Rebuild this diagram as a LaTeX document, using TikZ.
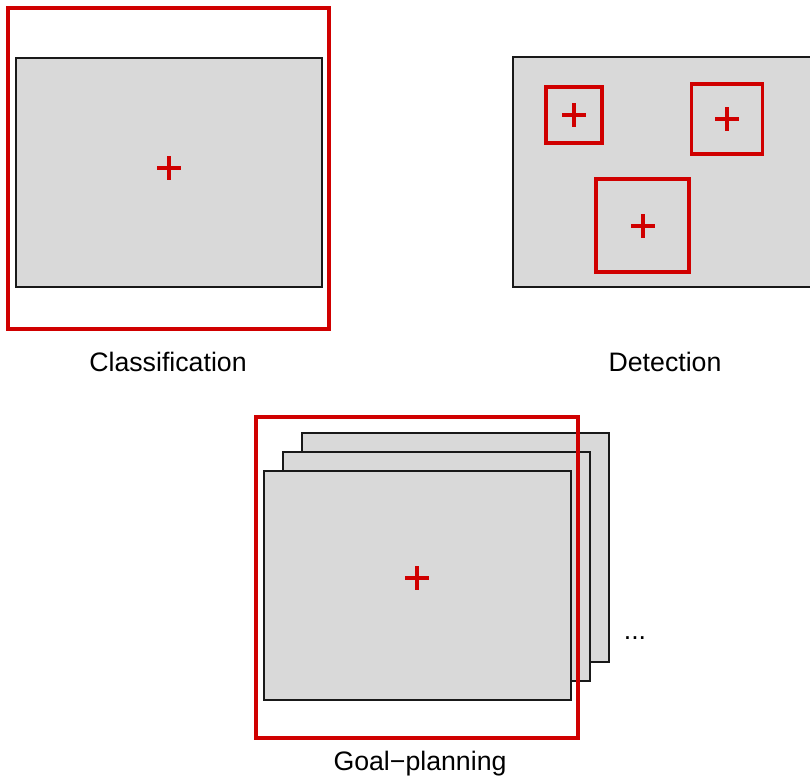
\documentclass[tikz,border=0pt]{standalone}
\usepackage{fontspec}
\setmainfont{Liberation Sans}
\definecolor{boxred}{RGB}{208,0,0}
\definecolor{imggray}{RGB}{217,217,217}
\tikzset{crosshair/.pic={\draw[boxred, line width=2.1pt] (-12,0) -- (12,0) (0,-12) -- (0,12);}}
\begin{document}
\begin{tikzpicture}[x=0.02cm, y=-0.02cm, inner sep=0pt, outer sep=0pt,
		framestyle/.style={draw=black!90, fill=imggray, line width=0.6pt, rectangle},
		redbox/.style={draw=boxred, line width=2.1pt, rectangle},
		labelstyle/.style={font=\fontsize{15.2}{18}\selectfont, text=black}]

		\clip (0,0) rectangle (810,778);

		% classification
		\node [framestyle, minimum width=306*0.02cm, minimum height=229*0.02cm] (clsimg) at (169,172.5) {};
		\node [redbox, minimum width=321*0.02cm, minimum height=321*0.02cm] (clsbox) at (168.5,168.5) {};
		\pic at (169,168) {crosshair};
		\node [labelstyle] (clslabel) at (168,362) {Classification};

		% detection
		\node [framestyle, minimum width=306*0.02cm, minimum height=230*0.02cm, anchor=north west] (detimg) at (513,57) {};
		\node [redbox, minimum width=56*0.02cm, minimum height=56*0.02cm] (detboxa) at (574,115) {};
		\node [redbox, minimum width=71*0.02cm, minimum height=70*0.02cm] (detboxb) at (727,119) {};
		\node [redbox, minimum width=93*0.02cm, minimum height=93*0.02cm] (detboxc) at (642.5,225.5) {};
		\pic at (574,115) {crosshair};
		\pic at (727,119) {crosshair};
		\pic at (643,226) {crosshair};
		\node [labelstyle] (detlabel) at (665,362) {Detection};

		% goal-planning
		\foreach \i/\dx in {2/38, 1/19, 0/0}
			\node [framestyle, minimum width=307*0.02cm, minimum height=229*0.02cm, anchor=north west] (goalimg\i) at (264+\dx,471-\dx) {};
		\node [redbox, minimum width=322*0.02cm, minimum height=321*0.02cm] (goalbox) at (417,577.5) {};
		\pic at (417,578) {crosshair};
		\node [labelstyle] (goaldots) at (635,638) {...};
		\node [labelstyle] (goallabel) at (420,764) {Goal−planning};
\end{tikzpicture}
\end{document}
